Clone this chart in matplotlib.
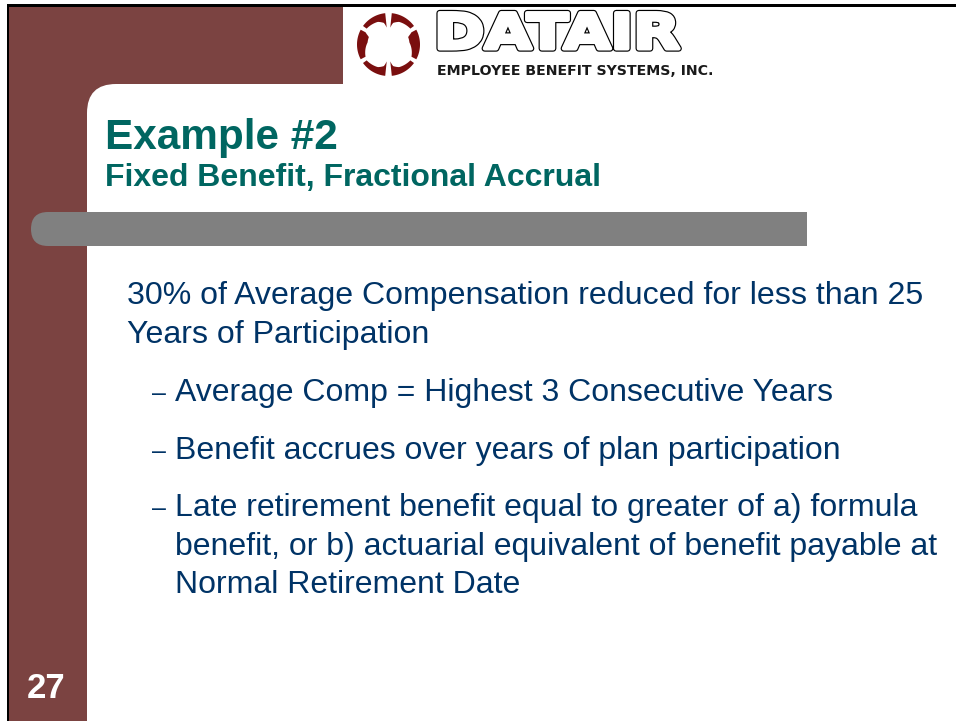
import numpy as np
import matplotlib
matplotlib.use("Agg")
import matplotlib.pyplot as plt
import matplotlib.patheffects as pe
from matplotlib.colors import to_rgb
from matplotlib.patches import Rectangle, PathPatch, Polygon
from matplotlib.path import Path
from matplotlib.transforms import Affine2D

plt.rcParams['font.family'] = ['Liberation Sans', 'DejaVu Sans']

MAROON = '#7b4341'
TEAL = '#006661'
NAVY = '#003366'

title = "Example #2"
subtitle = "Fixed Benefit, Fractional Accrual"
slide_number = "27"
logo_name = "DATAIR"
logo_tag = "EMPLOYEE BENEFIT SYSTEMS, INC."
body_lines = ["30% of Average Compensation reduced for less than 25",
              "Years of Participation"]
dash_lines = [["Average Comp = Highest 3 Consecutive Years"],
              ["Benefit accrues over years of plan participation"],
              ["Late retirement benefit equal to greater of a) formula",
               "benefit, or b) actuarial equivalent of benefit payable at",
               "Normal Retirement Date"]]
body_y = [304, 343]
dash_y = [[401], [459], [516, 555, 593]]
# logo wheel: start angle, end angle, and inner radius profile along the segment
corner_profile = [17, 22, 25, 27]
side_profile = [26, 21, 21, 26]
wheel_segments = [(96, 144, corner_profile), (84, 36, corner_profile),
                  (-84, -36, corner_profile), (-96, -144, corner_profile),
                  (152, 208, side_profile), (28, -28, side_profile)]


class StretchedStroke(pe.AbstractPathEffect):
    # wide logo lettering, glyphs scaled in x around the text anchor
    def __init__(self, sx, linewidth, color):
        super().__init__()
        self.sx = sx
        self.linewidth = linewidth
        self.color = color

    def draw_path(self, renderer, gc, tpath, affine, rgbFace=None):
        gc0 = renderer.new_gc()
        gc0.copy_properties(gc)
        gc0.set_linewidth(self.linewidth)
        gc0.set_foreground(self.color)
        renderer.draw_path(gc0, tpath, Affine2D().scale(self.sx, 1) + affine, to_rgb(self.color))
        gc0.restore()


fig = plt.figure(figsize=(9.56, 7.21), dpi=100)
ax = fig.add_axes([0, 0, 1, 1])
ax.set_xlim(0, 956)
ax.set_ylim(721, 0)
ax.axis('off')

# maroon frame with the rounded inner corner
r = 29
verts = [(9, 7), (343, 7), (343, 84), (87 + r, 84), (87, 84), (87, 84 + r),
         (87, 721), (9, 721), (9, 7)]
codes = [Path.MOVETO, Path.LINETO, Path.LINETO, Path.LINETO, Path.CURVE3, Path.CURVE3,
         Path.LINETO, Path.LINETO, Path.CLOSEPOLY]
ax.add_patch(PathPatch(Path(verts, codes), fc=MAROON, ec='none'))
ax.add_patch(Rectangle((7, 4), 949, 3, fc='black', ec='none'))
ax.add_patch(Rectangle((7, 4), 2.5, 717, fc='black', ec='none'))

# grey bar, rounded on the left
verts = [(807, 212), (48, 212), (31, 212), (31, 229), (31, 246), (48, 246), (807, 246), (807, 212)]
codes = [Path.MOVETO, Path.LINETO, Path.CURVE3, Path.CURVE3, Path.CURVE3, Path.CURVE3,
         Path.LINETO, Path.CLOSEPOLY]
ax.add_patch(PathPatch(Path(verts, codes), fc='#808080', ec='none'))

# logo
cx, cy = 388.5, 44.5
for a, b, profile in wheel_segments:
    t = np.linspace(0, 1, 24)
    angles = np.radians(a + (b - a) * t)
    inner = np.interp(t, [0, 0.12, 0.4, 1], profile)
    xs = np.concatenate([cx + 31.5 * np.cos(angles), cx + inner[::-1] * np.cos(angles[::-1])])
    ys = np.concatenate([cy - 31.5 * np.sin(angles), cy - inner[::-1] * np.sin(angles[::-1])])
    ax.add_patch(Polygon(np.column_stack([xs, ys]), fc='#7a0f0f', ec='none'))
ax.text(434, 48.5, logo_name, fontsize=35, fontweight='bold', family='DejaVu Sans', color='white',
        ha='left', va='baseline',
        path_effects=[StretchedStroke(1.25, 4.6, 'black'), StretchedStroke(1.25, 2.9, 'white')])
ax.text(437, 75, logo_tag, fontsize=10.15, fontweight='bold', family='DejaVu Sans', color='#1a1a1a',
        ha='left', va='baseline')

ax.text(105, 149, title, fontsize=30.4, fontweight='bold', color=TEAL, va='baseline')
ax.text(105, 186, subtitle, fontsize=23, fontweight='bold', color=TEAL, va='baseline')
ax.text(27, 698, slide_number, fontsize=25, fontweight='bold', color='white', va='baseline')

for line, y in zip(body_lines, body_y):
    ax.text(127, y, line, fontsize=23.1, color=NAVY, va='baseline')
for lines, ys in zip(dash_lines, dash_y):
    ax.text(152, ys[0], "\u2013", fontsize=18, color=NAVY, va='baseline')
    for line, y in zip(lines, ys):
        ax.text(175.5, y, line, fontsize=23.05, color=NAVY, va='baseline')

fig.savefig("out.png", dpi=100)
